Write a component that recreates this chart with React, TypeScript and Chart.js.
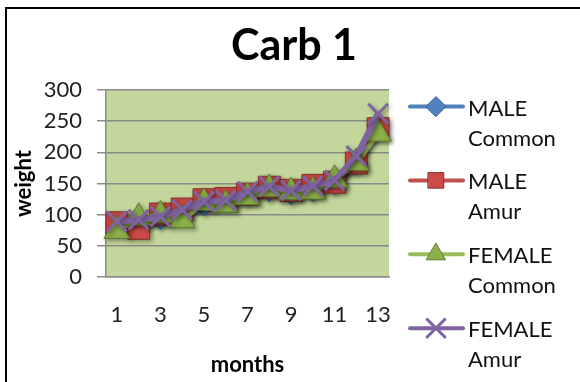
import React, { useEffect, useRef } from 'react';
import { Chart, registerables } from 'chart.js';
import { drawPoint } from 'chart.js/helpers';

Chart.register(...registerables);

const chartTitle = 'Carb 1';
const xTitle = 'months';
const yTitle = 'weight';
const months = ['1', '2', '3', '4', '5', '6', '7', '8', '9', '10', '11', '12', '13'];
const maleCommon = [89, 84, 92, 104, 114, 120, 130, 137, 132, 137, 148, 180, 240];
const maleAmur = [87, 78, 101, 109, 124, 126, 133, 144, 139, 147, 152, 183, 238];
const femaleCommon = [74, 95, 99, 91, 119, 116, 128, 141, 136, 137, 156, 183, 230];
const femaleAmur = [89, 92, 97, 108, 121, 123, 137, 145, 139, 146, 155, 194, 262];
const seriesLabels = [
  ['MALE', 'Common'],
  ['MALE', 'Amur'],
  ['FEMALE', 'Common'],
  ['FEMALE', 'Amur'],
];
const yMin = 0;
const yMax = 300;
const yStep = 50;

const FONT = 'Lato, "Open Sans", sans-serif';
const GRID = '#8a8a8a';

const seriesStyles = [
  { line: '#4F81BD', fill: '#4F81BD', edge: '#34608F', pointStyle: 'rectRot', radius: 10, legendRadius: 10, pbw: 1 },
  { line: '#C0504D', fill: '#CC4B47', edge: '#8C2F2C', pointStyle: 'rect', radius: 15.5, legendRadius: 11, pbw: 1 },
  { line: '#9BBB59', fill: '#8CB04A', edge: '#5E7B2C', pointStyle: 'triangle', radius: 15, legendRadius: 11, pbw: 1 },
  { line: '#8064A2', fill: '#8064A2', edge: '#8064A2', pointStyle: 'crossRot', radius: 14, legendRadius: 12.5, pbw: 3 },
];

const seriesData = [maleCommon, maleAmur, femaleCommon, femaleAmur];

const bgPlugin = {
  id: 'plotBg',
  beforeDraw(chart: any) {
    const { ctx, chartArea } = chart;
    ctx.save();
    ctx.fillStyle = '#ffffff';
    ctx.fillRect(0, 0, chart.width, chart.height);
    ctx.fillStyle = '#C3D69B';
    ctx.fillRect(chartArea.left, chartArea.top, chartArea.right - chartArea.left, chartArea.bottom - chartArea.top);
    ctx.restore();
  },
};

const shadowPlugin = {
  id: 'seriesShadow',
  beforeDatasetsDraw(chart: any) {
    const ctx = chart.ctx;
    ctx.save();
    ctx.shadowColor = 'rgba(0,0,0,0.35)';
    ctx.shadowBlur = 4;
    ctx.shadowOffsetX = 2;
    ctx.shadowOffsetY = 2;
  },
  afterDatasetsDraw(chart: any) {
    chart.ctx.restore();
  },
};

const legendPlugin = {
  id: 'sideLegend',
  afterDraw(chart: any) {
    const { ctx, chartArea } = chart;
    const lineStart = chartArea.right + 21;
    const lineEnd = lineStart + 53;
    const markerX = lineStart + 26;
    const textX = lineEnd + 5;
    const firstY = chartArea.top + 16.5;
    const pitch = 73.9;
    const lineGap = 30;
    ctx.save();
    chart.data.datasets.forEach((ds: any, i: number) => {
      const st = seriesStyles[i];
      const y = firstY + i * pitch;
      ctx.strokeStyle = st.line;
      ctx.lineWidth = 4;
      ctx.lineCap = 'round';
      ctx.beginPath();
      ctx.moveTo(lineStart, y);
      ctx.lineTo(lineEnd, y);
      ctx.stroke();
      ctx.fillStyle = st.fill;
      ctx.strokeStyle = st.edge;
      ctx.lineWidth = st.pbw;
      drawPoint(ctx, { pointStyle: st.pointStyle, radius: st.legendRadius, borderWidth: st.pbw, rotation: 0 } as any, markerX, y);
      ctx.fillStyle = '#111';
      ctx.font = `22px ${FONT}`;
      ctx.textBaseline = 'middle';
      ctx.textAlign = 'left';
      const lines = seriesLabels[i];
      lines.forEach((t, k) => ctx.fillText(t, textX, y + 2 + k * lineGap));
    });
    // outer frame (left and top edges visible)
    ctx.fillStyle = '#000';
    ctx.fillRect(5, 7, 2, chart.height - 7);
    ctx.fillRect(5, 7, chart.width - 5, 2);
    ctx.restore();
  },
};

export default function App() {
  const canvasRef = useRef<HTMLCanvasElement | null>(null);

  useEffect(() => {
    const canvas = canvasRef.current;
    if (!canvas) return;
    const datasets = seriesData.map((d, i) => {
      const st = seriesStyles[i];
      return {
        label: seriesLabels[i].join(' '),
        data: d,
        borderColor: st.line,
        backgroundColor: st.fill,
        borderWidth: i === 3 ? 6 : 5,
        pointStyle: st.pointStyle,
        pointRadius: st.radius,
        pointHoverRadius: st.radius,
        pointBackgroundColor: st.fill,
        pointBorderColor: st.edge,
        pointBorderWidth: st.pbw,
        tension: 0,
        fill: false,
        order: 3 - i,
      };
    });
    const chart = new Chart(canvas, {
      type: 'line',
      data: { labels: months, datasets: datasets as any },
      options: {
        animation: false,
        responsive: false,
        maintainAspectRatio: false,
        layout: { padding: { left: 8, right: 0, top: 0, bottom: 0 } },
        plugins: {
          legend: { display: false },
          tooltip: { enabled: false },
          title: {
            display: true,
            text: chartTitle,
            color: '#000',
            font: { family: FONT, size: 43, weight: 'bold', lineHeight: 1.2 },
            padding: { top: 20.6, bottom: 17.8 },
          },
        },
        scales: {
          x: {
            offset: true,
            ticks: {
              autoSkip: false,
              maxRotation: 0,
              color: '#222',
              padding: 25,
              font: { family: FONT, size: 22, lineHeight: 1.2 },
              callback: (_v: any, i: number) => (i % 2 === 0 ? months[i] : ''),
            },
            grid: { display: false, drawTicks: false },
            border: { display: true, color: GRID, width: 1.5 },
            title: {
              display: true,
              text: xTitle,
              color: '#000',
              font: { family: FONT, size: 22, weight: 'bold', lineHeight: 1.2 },
              padding: { top: 0, bottom: 3.5 },
            },
            afterFit: (s: any) => { s.height = 105; },
          },
          y: {
            min: yMin,
            max: yMax,
            ticks: {
              stepSize: yStep,
              color: '#222',
              padding: 15,
              font: { family: FONT, size: 22, lineHeight: 1.2 },
            },
            grid: { color: GRID, lineWidth: 1.5, tickLength: 9, drawTicks: true },
            border: { display: true, color: GRID, width: 1.5 },
            title: {
              display: true,
              text: yTitle,
              color: '#000',
              font: { family: FONT, size: 22, weight: 'bold', lineHeight: 1.2 },
              padding: { top: 2.3, bottom: 0 },
            },
            afterFit: (s: any) => { s.width = 98; },
          },
          legendSpace: {
            type: 'linear',
            position: 'right',
            display: true,
            ticks: { display: false },
            grid: { display: false, drawTicks: false },
            border: { display: false },
            afterFit: (s: any) => { s.width = 191; },
          } as any,
        },
      },
      plugins: [bgPlugin, shadowPlugin, legendPlugin],
    });
    return () => chart.destroy();
  }, []);

  return (
    <div style={{ position: 'absolute', left: 0, top: 0, width: 580, height: 382, overflow: 'hidden' }}>
      <canvas ref={canvasRef} width={580} height={382} />
    </div>
  );
}
